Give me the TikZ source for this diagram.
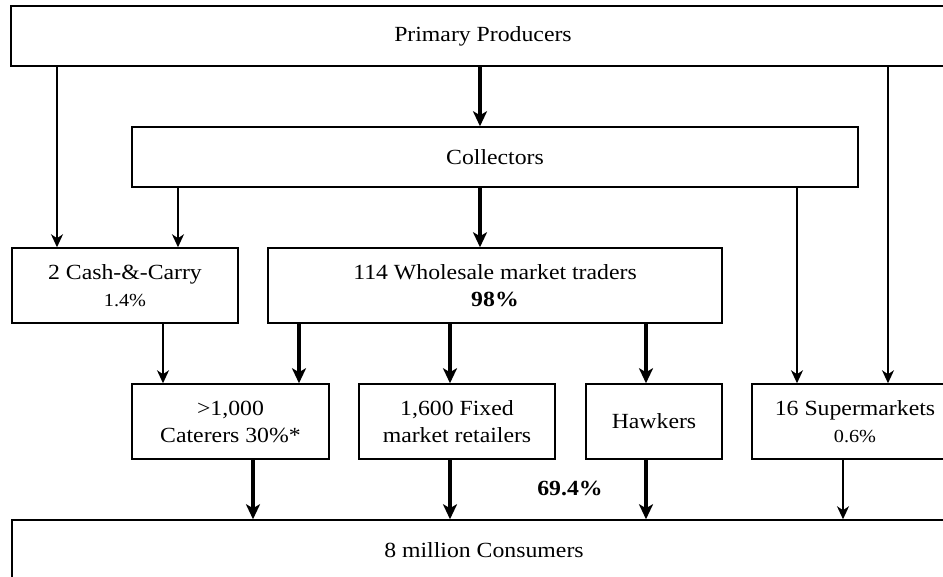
\documentclass[tikz,border=0pt]{standalone}
\usepackage{fontspec}
\setmainfont{Liberation Serif}[FakeStretch=1.1]
\usetikzlibrary{arrows.meta}
\newcommand{\bigtxt}{\fontsize{21.6}{27}\selectfont}
\newcommand{\smtxt}{\fontsize{18.4}{27}\selectfont}
\tikzset{
  box/.style={draw, line width=1.5pt, inner sep=0pt, align=center, font=\bigtxt},
  thinarrow/.style={line width=1.4pt, -{Stealth[length=13pt,width=12pt,inset=4pt]}},
  thickarrow/.style={line width=3.6pt, -{Stealth[length=15pt,width=14pt,inset=4pt]}},
}
\begin{document}
\begin{tikzpicture}[x=1pt,y=-1pt]
\useasboundingbox (0,0) rectangle (943,577);
\clip (0,0) rectangle (943,577);
\fill[white] (0,0) rectangle (943,577);
% boxes
\node[box, minimum width=944pt, minimum height=60pt] (prim) at (483,36) {Primary Producers};
\node[box, minimum width=726pt, minimum height=60pt] (coll) at (495,157) {Collectors};
\node[box, minimum width=226pt, minimum height=75pt] (cash) at (125,285.5) {2 Cash-\&-Carry\\{\smtxt 1.4\%}};
\node[box, minimum width=454pt, minimum height=75pt] (whole) at (495,285.5) {114 Wholesale market traders\\\textbf{98\%}};
\node[box, minimum width=197pt, minimum height=75pt] (cat) at (230.5,421.5) {>1,000\\Caterers 30\%*};
\node[box, minimum width=196pt, minimum height=75pt] (fixed) at (457,421.5) {1,600 Fixed\\market retailers};
\node[box, minimum width=136pt, minimum height=75pt] (hawk) at (654,421.5) {Hawkers};
\node[box, minimum width=206pt, minimum height=75pt] (super) at (855,421.5) {16 Supermarkets\\{\smtxt 0.6\%}};
\node[box, minimum width=944pt, minimum height=60pt] (cons) at (484,550) {8 million Consumers};
\node[font=\bigtxt\bfseries] (pct) at (570,488) {69.4\%};
% connectors
\draw[thinarrow] (prim.south -| 57,0) -- (cash.north -| 57,0);
\draw[thickarrow] (prim.south -| 480,0) -- (coll.north -| 480,0);
\draw[thinarrow] (prim.south -| 888,0) -- (super.north -| 888,0);
\draw[thinarrow] (coll.south -| 178,0) -- (cash.north -| 178,0);
\draw[thickarrow] (coll.south -| 480,0) -- (whole.north -| 480,0);
\draw[thinarrow] (coll.south -| 797,0) -- (super.north -| 797,0);
\draw[thinarrow] (cash.south -| 163,0) -- (cat.north -| 163,0);
\draw[thickarrow] (whole.south -| 299,0) -- (cat.north -| 299,0);
\draw[thickarrow] (whole.south -| 450,0) -- (fixed.north -| 450,0);
\draw[thickarrow] (whole.south -| 646,0) -- (hawk.north -| 646,0);
\draw[thickarrow] (cat.south -| 253,0) -- (cons.north -| 253,0);
\draw[thickarrow] (fixed.south -| 450,0) -- (cons.north -| 450,0);
\draw[thickarrow] (hawk.south -| 646,0) -- (cons.north -| 646,0);
\draw[thinarrow] (super.south -| 843,0) -- (cons.north -| 843,0);
\end{tikzpicture}
\end{document}
